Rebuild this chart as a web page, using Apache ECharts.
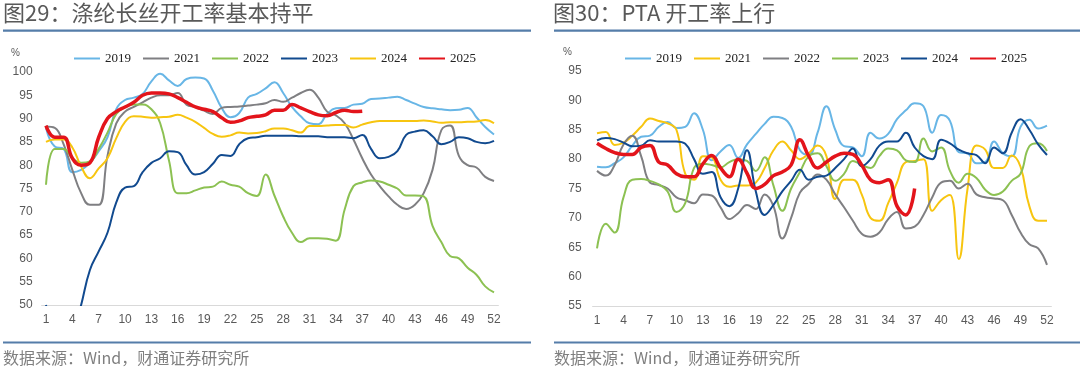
<!DOCTYPE html>
<html><head><meta charset="utf-8">
<script src="https://cdn.jsdelivr.net/npm/echarts@6/dist/echarts.min.js"></script>
<style>html,body{margin:0;padding:0;background:#fff}#c{width:1080px;height:373px}</style>
</head><body><div id="c"></div>
<script>
const weeks = ['1','2','3','4','5','6','7','8','9','10','11','12','13','14','15','16','17','18','19','20','21','22','23','24','25','26','27','28','29','30','31','32','33','34','35','36','37','38','39','40','41','42','43','44','45','46','47','48','49','50','51','52'];

// Left: polyester filament operating rate (%)
const L2019 = [88,84,83.5,78.5,79,80.5,83,86,92,94,94.5,95.3,98,99.6,98.2,97,98.5,98.8,98.6,96,92.3,90.3,91.2,94.5,95.3,96.5,97.8,95.5,92.5,90.5,89,88.8,91,92.2,92.3,93,93.2,94.2,94.3,94.5,94.7,94,93.2,92.5,92.2,92,91.8,91.9,92.3,90.3,88.2,86.6];
const L2021 = [88.3,88,84.5,79,74,71.5,71.5,82,89,91.5,92.5,93.5,94.5,95,95,95.5,93,92.5,91.7,91,92.3,92.5,92.6,92.8,93,93.3,94,93.6,94.5,95.5,96.2,94.5,91.5,90.7,89,85.5,81.5,78,75.5,73.3,71.5,70.6,71.5,74,79,87.5,88.5,82,80,79.5,77.5,76.6];
const L2022 = [75.8,83.5,83.5,81.5,80.5,80.8,83.5,87,91,92.5,93,93,92,89,81,74,74,74.6,75.2,75.4,76.5,75.8,75.4,74,73.4,78,73.5,69,65.5,63.5,64.3,64.3,64.2,63.8,70.5,75.5,76.3,76.7,76.5,75.8,75,73.5,73.5,73.3,67,63.5,60.5,60,58,56.5,54,52.7];
const L2023 = [50,44,42,43,50,57.5,61.5,65.5,72,75.2,75.5,78.5,80.5,81.5,83,82.8,80,78,78.5,80.3,82.2,82,84.5,85.8,86,86.3,86.3,86.3,86.3,86.2,86.2,86.2,86,86,86,85.8,86.5,83.5,81.5,81.8,83,86.5,87.2,87.5,86.2,84.5,85,86,85.8,85,84.7,85.2];
const L2024 = [85,85.5,85.5,83.8,79.7,77.2,79.3,81.5,85.8,89.3,90.5,90.4,90.2,90.3,90.4,90.8,90.2,89.3,88,86.7,86.1,86.4,87,86.8,86.9,87.3,87.9,87.9,87.5,87,88.4,88.4,88.5,88.6,88.6,88.1,88.7,89.2,89.5,89.5,89.5,89.5,89.5,89.6,89.4,89.1,89.2,89.2,89.3,89.4,89.7,89];
const L2025 = [88.5,86,86,81.5,80,80.5,86,90,91.5,92.5,93.5,95,95.5,95.5,95.3,94.5,93.5,92.5,92,91.5,90.2,89.2,89.5,90.2,90.5,90.8,91.8,91.8,93,92.3,91.5,90.8,90.6,91.3,91.8,91.5,91.6];

// Right: PTA operating rate (%)
const R2019 = [78.7,78.6,79.3,80.3,82.3,83.8,84,85.5,86.3,85.3,85.5,87.8,85,79.8,81.3,82.4,80.2,82.5,84.3,86,87.2,87,85.5,81.5,80.7,84.5,89,85,82.2,82,80.5,84.5,83.5,84.3,86.8,88.3,89.5,89,84.5,87.5,86.5,81.2,81,79.3,79.5,83,81,80.5,85.5,86.7,85.2,85.7];
const R2021 = [84.4,84.6,82.4,82.8,84,85.5,86.9,86.5,86.1,85,77.5,76.5,80.5,80.3,76.5,75.3,75.5,75.5,76,78.5,81.5,83,81.5,80,81,82.3,80.5,73.2,76.5,76.5,74,70,69.5,72.5,76,79.5,79.7,80,71.2,73,73.9,63,75,82.3,81.6,78.5,78.5,80.6,78.7,72,69.5,69.5];
const R2022 = [78,77.2,79,82.5,84,80.5,76,75.6,75,73.5,73,72.5,74,73.8,71.8,69.8,70.8,72.2,71.5,74,72,66.5,70,74.3,75.8,77.4,76.5,74,71.8,69.5,67.3,66.8,67.5,69.8,71,68.2,68.5,70.5,73.5,76,76.3,75,75.8,74,73.5,73.3,73,70.5,67.5,65.5,64.8,62];
const R2023 = [64.8,69,67.5,73.5,76.5,76.6,76.3,75.7,74.5,71,72.5,78.5,79.2,79,78.6,79.5,80,79.7,78,80.3,75.5,71.2,75,77.8,80.5,81,78.8,76.3,77.5,79.7,79,78.5,80.5,81.8,81.5,79.8,79.5,83.5,81.3,82,78,76,77.5,76.8,74.8,73.9,74.5,76.3,77.5,82.2,82.7,81.4];
const R2024 = [83.2,83.6,83.4,82.8,82.2,82.3,83.2,83,83,83,82.6,80,77.5,77.8,73.5,72,75,81.5,74.5,70.5,72.2,74.5,76.3,78.2,76.5,77,77.2,78.5,80,81.8,78.8,80,82.3,83,83,84.5,82,80.5,80,83.3,82.7,81.6,81,80.7,79.3,82,81,84.5,86.8,85,82.5,80.7];
const R2025 = [82.7,81.8,81.1,80.8,80.8,82,82.3,79.5,79,77.5,77,77,79.2,80.6,78.5,77,80,77.6,75,75.7,77.2,77.8,79,83.3,80.5,78.5,79.5,80.5,81,80.8,79,76.5,76,76.5,72,70.5,75];

const leftYears = ['2019','2021','2022','2023','2024','2025'];
const rightYears = ['2019','2021','2022','2023','2024','2025'];
const leftColors = ['#68B6E6','#7F7F82','#8CC152','#114A8F','#F7C510','#E3141B'];
const rightColors = ['#68B6E6','#F7C510','#7F7F82','#8CC152','#114A8F','#E3141B'];
const leftData = [L2019,L2021,L2022,L2023,L2024,L2025];
const rightData = [R2019,R2021,R2022,R2023,R2024,R2025];

const chart = echarts.init(document.getElementById('c'), null, {renderer:'canvas'});

function mkSeries(prefix, years, data, colors, idx) {
  return years.map((y,i)=>({
    name: prefix + y, type:'line', xAxisIndex: idx, yAxisIndex: idx,
    data: data[i], smooth: 0.45, symbol:'none', showSymbol:false, clip:true,
    lineStyle:{color: colors[i], width: y==='2025'?3.5:2},
    itemStyle:{color: colors[i]}, z: y==='2025'?10:2, animation:false
  }));
}

const axisLabelStyle = {color:'#595959', fontSize:12, fontFamily:'Liberation Sans, Arial, sans-serif'};
const legendText = {color:'#222', fontSize:13, fontFamily:'Liberation Serif, Times New Roman, serif'};
const ruleColor = '#557DA9';

function mkLegend(prefix, years, left) {
  return {data: years.map(y=>prefix+y), left:left, top:47, itemWidth:26, itemHeight:10, itemGap:11,
    formatter:n=>n.slice(1), textStyle:legendText, selectedMode:false,
    itemStyle:{opacity:0}};
}

chart.setOption({
  animation:false,
  grid:[
    {left:41.6, right:581.6, top:72, bottom:68},
    {left:592.6, right:28.6, top:71, bottom:67}
  ],
  xAxis:[
    {gridIndex:0, type:'category', data:weeks, boundaryGap:true,
     axisLine:{lineStyle:{color:'#D9D9D9'}}, axisTick:{interval:2, inside:true, length:3, lineStyle:{color:'#BFBFBF'}},
     axisLabel:Object.assign({interval:2, margin:9}, axisLabelStyle)},
    {gridIndex:1, type:'category', data:weeks, boundaryGap:true,
     axisLine:{lineStyle:{color:'#D9D9D9'}}, axisTick:{interval:2, inside:true, length:3, lineStyle:{color:'#BFBFBF'}},
     axisLabel:Object.assign({interval:2, margin:9}, axisLabelStyle)}
  ],
  yAxis:[
    {gridIndex:0, type:'value', min:50, max:100, interval:5, axisLine:{show:false}, axisTick:{show:false}, splitLine:{show:false},
     axisLabel:Object.assign({margin:9}, axisLabelStyle)},
    {gridIndex:1, type:'value', min:55, max:95, interval:5, axisLine:{show:false}, axisTick:{show:false}, splitLine:{show:false},
     axisLabel:Object.assign({margin:11}, axisLabelStyle)}
  ],
  legend:[ mkLegend('L', leftYears, 68), mkLegend('R', rightYears, 619) ],
  series: mkSeries('L', leftYears, leftData, leftColors, 0).concat(mkSeries('R', rightYears, rightData, rightColors, 1)),
  graphic:[
    {type:'text', left:3, top:2, style:{text:'图29：涤纶长丝开工率基本持平', fill:'#595959', font:'22px "Noto Sans CJK SC"'}},
    {type:'text', left:553, top:2, style:{text:'图30：PTA 开工率上行', fill:'#595959', font:'22px "Noto Sans CJK SC"'}},
    {type:'rect', shape:{x:3, y:29.5, width:528, height:2.2}, style:{fill:ruleColor}},
    {type:'rect', shape:{x:554, y:29.5, width:526, height:2.2}, style:{fill:ruleColor}},
    {type:'rect', shape:{x:3, y:341.5, width:528, height:2}, style:{fill:ruleColor}},
    {type:'rect', shape:{x:554, y:341.5, width:526, height:2}, style:{fill:ruleColor}},
    {type:'text', left:3, top:350, style:{text:'数据来源：Wind，财通证券研究所', fill:'#7F7F7F', font:'16px "Noto Sans CJK SC"'}},
    {type:'text', left:554, top:350, style:{text:'数据来源：Wind，财通证券研究所', fill:'#7F7F7F', font:'16px "Noto Sans CJK SC"'}},
    {type:'text', left:11, top:48, style:{text:'%', fill:'#595959', font:'10px "Liberation Sans"'}},
    {type:'text', left:563, top:47, style:{text:'%', fill:'#595959', font:'10px "Liberation Sans"'}}
  ]
});
</script></body></html>
